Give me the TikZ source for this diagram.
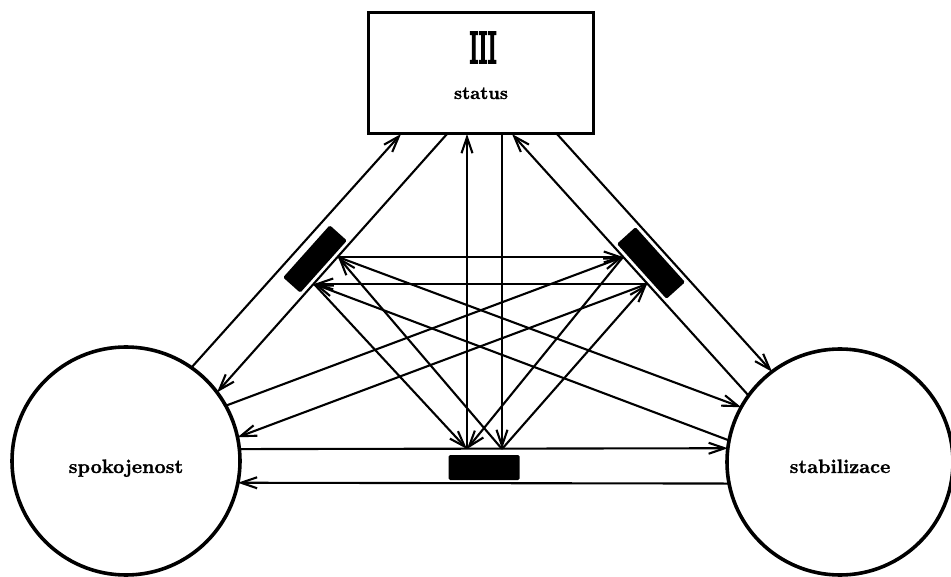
\documentclass[tikz,border=0pt]{standalone}
\usepackage{graphicx}
\usepackage{fontspec}
\newfontfamily\lblfont[FakeBold=1.2]{lmroman10-bold.otf}
\newfontfamily\numfont[FakeBold=4]{lmroman10-bold.otf}
\usetikzlibrary{arrows.meta}
\begin{document}
\begin{tikzpicture}[x=1pt,y=-1pt,
  conn/.style={line width=2.1pt},
  arr/.style={conn,-{Straight Barb[length=16pt,width=11pt]}},
  circ/.style={circle,draw,line width=3.6pt,minimum size=228pt,inner sep=0pt,outer sep=0pt},
  blk/.style={fill=black,rounded corners=1.5pt,inner sep=0pt,outer sep=0pt},
  lbl/.style={font=\lblfont\fontsize{19.5}{22}\selectfont,inner sep=0pt}
]
\fill[white] (0,0) rectangle (951,577);
\useasboundingbox (0,0) rectangle (951,577);
% main nodes
\node[draw, line width=3pt, minimum width=225pt, minimum height=121pt, inner sep=0pt, outer sep=0pt] (S) at (480.5,73.5) {};
\node[circ] (L) at (126,461) {};
\node[circ, minimum size=226pt] (R) at (840,462) {};
\node[lbl,anchor=base] (Lt) at (126,473) {spokojenost};
\node[lbl,anchor=base] (Rt) at (840,473) {stabilizace};
\node[lbl,font=\lblfont\fontsize{18}{20}\selectfont,anchor=base] (St) at (481,99) {status};
\node[anchor=base,inner sep=0pt] (num) at (483,63) {\resizebox{27pt}{31pt}{\numfont III}};
% black blocks
\node[blk, minimum width=70pt, minimum height=23pt, rotate=48.2] (K1) at (315,259) {};
\node[blk, minimum width=74pt, minimum height=25pt, rotate=-48] (K2) at (651,263) {};
\node[blk, minimum width=71pt, minimum height=25pt] (K3) at (484,467.5) {};
% attachment points
\coordinate (s1) at (401,134);
\coordinate (s2) at (447,134);
\coordinate (s3) at (467,134);
\coordinate (s4) at (502,134);
\coordinate (s5) at (512,134);
\coordinate (s6) at (557,134);
\coordinate (P1) at (338,257);
\coordinate (P2) at (314,284);
\coordinate (Q1) at (623,257);
\coordinate (Q2) at (647,284);
\coordinate (B1) at (467,449);
\coordinate (B2) at (502,449);
% channels
\draw[arr] (L.55) -- (s1);
\draw[arr] (s2) -- (L.37);
\draw[arr] (s6) -- (R.127);
\draw[arr] (R.144) -- (s5);
\draw[arr] (L.6) -- (R.173);
\draw[arr] (R.191) -- (L.-11);
\draw[arr] (B1) -- (s3);
\draw[arr] (s4) -- (B2);
% cross links
\draw[arr] (P1) -- (Q1);
\draw[arr] (Q2) -- (P2);
\draw[arr] (P1) -- (R.151);
\draw[arr] (R.169) -- (P2);
\draw[arr] (L.29) -- (Q1);
\draw[arr] (Q2) -- (L.12);
\draw[arr] (B2) -- (P1);
\draw[arr] (P2) -- (B1);
\draw[arr] (Q1) -- (B1);
\draw[arr] (B2) -- (Q2);
\end{tikzpicture}
\end{document}
